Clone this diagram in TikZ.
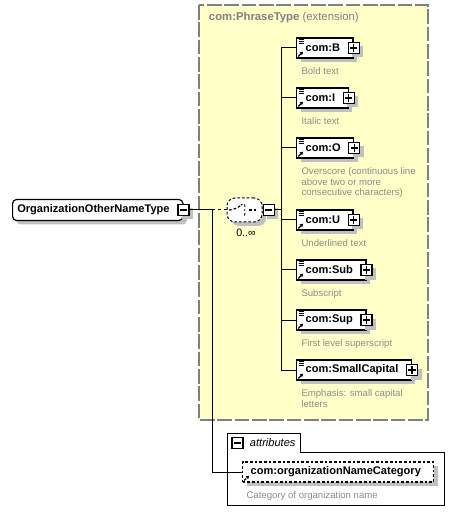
\documentclass[tikz,border=0pt]{standalone}
\usepackage{fontspec}
\setmainfont{Liberation Sans}
\usetikzlibrary{arrows.meta, positioning, shadows, calc}
\definecolor{cyellow}{HTML}{FFFFC8}
\definecolor{cframe}{HTML}{808080}
\definecolor{cdesc}{HTML}{8C8C8C}
\definecolor{cshadow}{HTML}{C0C0C0}
\newcommand\docicon{\foreach \d in {1.4,2.9,4.4} \draw[line width=0.6pt] ([xshift=1.6pt,yshift=-\d pt]path picture bounding box.north west) -- ++(4pt,0);}
\newcommand\refarrow{\draw[line width=0.9pt, -{Triangle[length=2.4pt, width=2.6pt]}] ([xshift=1.3pt,yshift=1.2pt]path picture bounding box.south west) -- ++(3.6pt,3.6pt);}
\tikzset{
  every picture/.style={line width=0.75pt},
  shade box/.style={drop shadow={shadow xshift=3pt, shadow yshift=-3pt, fill=cshadow, opacity=1}},
  namefont/.style={font=\fontsize{8.3}{10}\selectfont\bfseries},
  elem/.style={draw, fill=white, line width=0.9pt, shade box, namefont, anchor=west, minimum height=15pt, inner xsep=0pt, inner ysep=0pt,
    execute at begin node={\hspace*{6.75pt}}, execute at end node={\hspace*{9.75pt}}, path picture={\docicon\refarrow}},
  rootbox/.style={draw, fill=white, line width=0.9pt, shade box, namefont, anchor=west, rounded corners=3pt, minimum height=15.75pt, inner xsep=0pt,
    execute at begin node={\hspace*{3.5pt}}, execute at end node={\hspace*{10pt}}},
  attrbox/.style={draw, fill=white, line width=0.9pt, dashed, dash pattern=on 2pt off 1.5pt, shade box, namefont, anchor=west, minimum height=15pt, inner xsep=0pt,
    execute at begin node={\hspace*{6pt}}, execute at end node={\hspace*{9.5pt}}, path picture={\refarrow}},
  seqbox/.style={draw, fill=white, line width=0.75pt, dash pattern=on 2pt off 1.5pt, shade box, rounded corners=6pt, minimum width=26.25pt, minimum height=18pt},
  pm/.style={draw, fill=white, line width=0.9pt, minimum size=8.25pt, inner sep=0pt},
  minusbox/.style={pm, path picture={\draw[line width=0.9pt] ([xshift=1.4pt]path picture bounding box.west) -- ([xshift=-1.4pt]path picture bounding box.east);}},
  plusbox/.style={pm, path picture={\draw[line width=0.9pt] ([xshift=1.4pt]path picture bounding box.west) -- ([xshift=-1.4pt]path picture bounding box.east)
    ([yshift=-1.4pt]path picture bounding box.north) -- ([yshift=1.4pt]path picture bounding box.south);}},
  desc/.style={font=\fontsize{7.2}{7.9}\selectfont, text=cdesc, align=left, inner sep=0pt, anchor=north west},
}

\begin{document}
\begin{tikzpicture}[x=0.75pt, y=-0.75pt]
  \useasboundingbox (0,0) rectangle (469,523);
  % extension frame
  \fill[cyellow] (199,5) rectangle (428,420);
  \draw[cframe, line width=1pt, dash pattern=on 11pt off 2pt] (199,5) rectangle (428,420);
  \node[anchor=west, text=cframe, font=\fontsize{8.5}{10}\selectfont] (phrasetitle) at (204,18) {\textbf{com:PhraseType} (extension)};
  % root and sequence
  \node[rootbox] (root) at (12,210) {OrganizationOtherNameType};
  \node[minusbox, shade box] (rootpm) at (root.east) {};
  \node[seqbox, path picture={
      \draw[line width=0.9pt] ([xshift=-11.6pt]path picture bounding box.center) -- ++(6pt,0) -- ++(3pt,3.5pt);
      \draw[line width=0.9pt] ([xshift=0.4pt,yshift=4.5pt]path picture bounding box.center) -- ++(0,-9pt);
      \foreach \s in {-3.75,0,3.75} \fill ([xshift=1pt,yshift=\s pt-1.1pt]path picture bounding box.center) rectangle ++(2.6pt,2.2pt);
      \draw[line width=0.9pt] ([xshift=3.6pt]path picture bounding box.center) -- ++(5pt,0);
    }] (seq) at (244.5,210) {};
  \node[minusbox, shade box, anchor=west] (seqpm) at (seq.east) {};
  \node[font=\fontsize{8}{9}\selectfont] (seqocc) at (246,233) {0..∞};
  \coordinate (rootj) at (212,210);
  \coordinate (bus) at (281,210);
  \draw (rootpm.east) -- (rootj);
  \draw[dash pattern=on 2.5pt off 2pt] (rootj) -- (seq.west);
  \draw (seqpm.east) -- (bus);
  % children
  \foreach \n/\t/\y/\d in {b/com:B/48/{Bold text}, i/com:I/98/{Italic text},
      o/com:O/148/{Overscore (continuous line\\above two or more\\consecutive characters)},
      u/com:U/220/{Underlined text}, sub/com:Sub/270/{Subscript}, sup/com:Sup/320/{First level superscript},
      smallcap/com:SmallCapital/370/{Emphasis: small capital\\letters}} {
    \draw (bus) |- (296,\y);
    \node[elem] (\n) at (296,\y) {\t};
    \node[plusbox, shade box] (\n-pm) at (\n.east) {};
    \node[desc] (\n-desc) at ([xshift=3.75pt,yshift=-6.5pt]\n.south west) {\d};
  }
  % attributes
  \draw (227,505) -- (227,433) -- (300,433) -- (300,452) -- (444,452) -- (444,505) -- cycle;
  \node[minusbox] (attrpm) at (237.5,443) {};
  \node[anchor=west, font=\fontsize{8.3}{10}\selectfont\itshape] (attrtitle) at (245,443) {attributes};
  \node[attrbox] (orgcat) at (242,472) {com:organizationNameCategory};
  \node[desc] (orgcat-desc) at ([xshift=3pt,yshift=-6.5pt]orgcat.south west) {Category of organization name};
  \draw (rootj) |- (orgcat.west);
\end{tikzpicture}
\end{document}
